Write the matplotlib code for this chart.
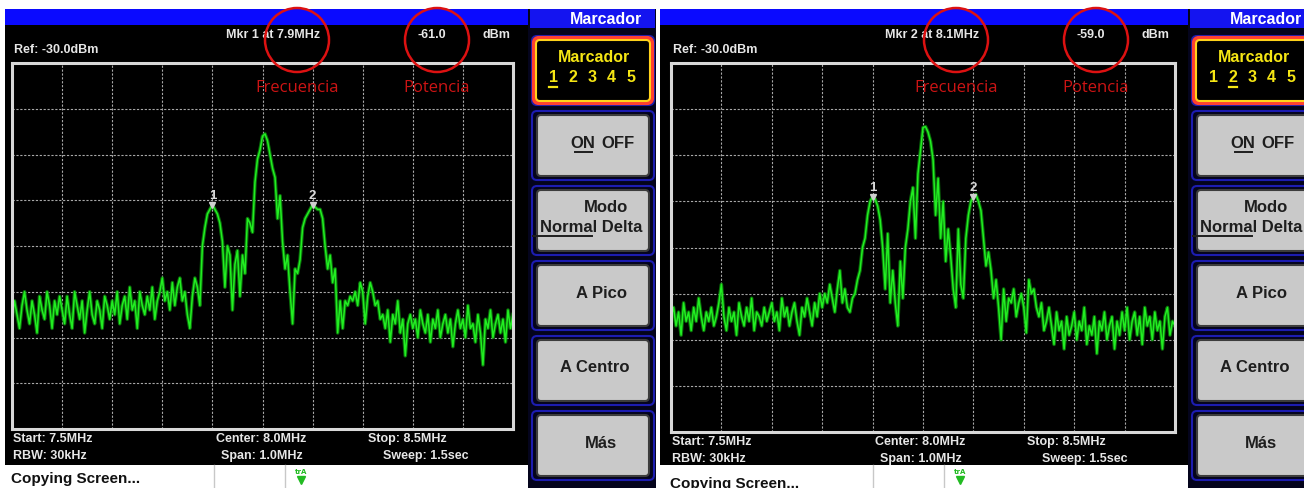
import numpy as np
import matplotlib.pyplot as plt
from matplotlib.patches import Rectangle, FancyBboxPatch, Circle
from matplotlib.ticker import MultipleLocator

W, H = 1304, 489

start_mhz, stop_mhz, step_mhz = 7.5, 8.5, 0.005
ref_dbm, bottom_dbm = -30.0, -110.0

# sweep traces (dBm), one point every 5 kHz from 7.5 to 8.5 MHz
trace_a = [
    -86, -82, -85, -88, -83, -80, -84, -87, -82, -85, -89, -81, -84, -86, -80, -83, -88, -82, -85, -81,
    -84, -87, -81, -85, -88, -80, -83, -86, -82, -89, -84, -80, -85, -87, -82, -84, -88, -81, -83, -86,
    -82, -85, -80, -87, -83, -81, -86, -79, -84, -82, -88, -80, -83, -85, -81, -84, -79, -86, -82, -80,
    -77, -82, -80, -84, -78, -83, -79, -77, -82, -80, -85, -88, -81, -77, -79, -83, -70, -66, -63, -62,
    -61, -62, -63, -65, -69, -79, -70, -72, -84, -74, -71, -81, -72, -76, -64, -65, -67, -56, -51, -49,
    -46, -45.5, -47, -50, -53, -55, -64, -59, -69, -75, -72, -80, -87, -75, -76, -73, -66, -64, -63, -62,
    -61, -61.5, -62, -62, -64, -70, -75, -72, -78, -75, -89, -82, -88, -82, -83, -81, -82, -80, -83, -78,
    -80, -87, -81, -78, -80, -83, -82, -86, -85, -88, -84, -91, -85, -87, -82, -89, -86, -94, -87, -85,
    -88, -86, -90, -84, -87, -89, -85, -91, -86, -88, -84, -90, -87, -85, -89, -86, -92, -87, -84, -88,
    -86, -90, -83, -88, -87, -91, -85, -89, -96, -86, -88, -84, -90, -87, -85, -89, -86, -91, -84, -88, -85,
]
trace_b = [
    -85, -83, -87, -84, -89, -82, -86, -84, -88, -83, -86, -81, -85, -88, -84, -86, -83, -87, -85, -82,
    -78, -85, -88, -83, -86, -84, -89, -82, -85, -87, -83, -86, -81, -88, -84, -85, -87, -83, -86, -84,
    -82, -86, -84, -88, -81, -85, -83, -87, -84, -82, -86, -89, -83, -85, -81, -84, -87, -82, -85, -80,
    -83, -80, -82, -78, -81, -84, -79, -75, -82, -79, -83, -84, -81, -80, -77, -75, -70, -68, -63, -60,
    -59, -59.5, -61, -64, -70, -79, -67, -82, -75, -82, -87, -73, -81, -70, -66, -60, -57, -68, -54, -49,
    -44, -43.8, -45, -47, -51, -63, -55, -68, -60, -73, -66, -72, -79, -83, -66, -78, -81, -68, -63, -60,
    -59, -58.5, -60, -62, -68, -74, -71, -75, -81, -77, -83, -90, -79, -86, -81, -82, -79, -85, -82, -80,
    -83, -88.5, -77, -80, -79, -83, -85, -82, -88, -86, -83, -87, -91, -84, -88, -86, -92, -85, -89, -87,
    -84, -90, -86, -88, -83, -91, -87, -89, -85, -93, -86, -88, -84, -90, -87, -85, -92, -86, -89, -84,
    -88, -83, -90, -86, -84, -89, -85, -91, -83, -87, -85, -90, -84, -88, -86, -92, -85, -83, -89, -86, -87,
]

marker_freqs = [7.9, 8.1]
active_marker = [1, 2]
readout_dbm = [-61.0, -59.0]

screen_font = ["Liberation Sans Narrow", "Liberation Sans", "DejaVu Sans"]
menu_font = ["Liberation Sans", "DejaVu Sans"]

freqs = np.arange(len(trace_a)) * step_mhz + start_mhz

fig = plt.figure(figsize=(W / 100, H / 100), dpi=100)
fig.patch.set_facecolor("white")

bg = fig.add_axes([0, 0, 1, 1])
bg.set_xlim(0, W)
bg.set_ylim(H, 0)
bg.axis("off")


def rect(ax, x0, y0, x1, y1, **kw):
    ax.add_patch(Rectangle((x0, y0), x1 - x0, y1 - y0, **kw))


def stxt(x, y, s, ha="left", color="#e6e6e6", size=9):
    bg.text(x, y, s, ha=ha, va="center", color=color, fontsize=size,
            fontweight="bold", family=screen_font)


def mtxt(x, y, s, color="#1e1e1e", size=12):
    bg.text(x, y, s, ha="center", va="center", color=color, fontsize=size,
            fontweight="bold", family=menu_font)


def draw_screen(x0, x1, gx, gw, gh, trace, n, status_y):
    # display area
    rect(bg, x0, 10, x1, 26, color="#0a0aff", lw=0)
    rect(bg, x0, 26, x1, 466, color="black", lw=0)
    rect(bg, x0, 466, x1, H, color="white", lw=0)
    gy = 64
    by = gy + gh + 9  # first line of the sweep info under the graticule

    stxt(gx + 261, 35, f"Mkr {active_marker[n]} at {marker_freqs[active_marker[n] - 1]:.1f}MHz", ha="center")
    stxt(gx + 420, 35, f"{readout_dbm[n]:.1f}", ha="center")
    stxt(gx + 484, 35, "dBm", ha="center")
    stxt(gx + 2, 50, f"Ref: {ref_dbm:.1f}dBm")

    stxt(gx + 1, by, f"Start: {start_mhz}MHz")
    stxt(gx + 204, by, f"Center: {(start_mhz + stop_mhz) / 2:.1f}MHz")
    stxt(gx + 356, by, f"Stop: {stop_mhz}MHz")
    stxt(gx + 1, by + 17, "RBW: 30kHz")
    stxt(gx + 209, by + 17, f"Span: {stop_mhz - start_mhz:.1f}MHz")
    stxt(gx + 371, by + 17, "Sweep: 1.5sec")

    # status bar
    bg.plot([gx + 202, gx + 202], [466, H], color="#c8c8c8", lw=1)
    bg.plot([gx + 273, gx + 273], [466, H], color="#c8c8c8", lw=1)
    bg.text(gx - 1, status_y, "Copying Screen...", ha="left", va="center",
            color="#111111", fontsize=11, fontweight="semibold", family=menu_font)
    bg.text(gx + 289, 472, "trA", ha="center", va="center", color="#22bb22",
            fontsize=5, fontweight="bold")
    bg.plot(gx + 289, 481, marker="v", ms=6, color="#22bb22")

    # graticule
    ax = fig.add_axes([gx / W, 1 - (gy + gh) / H, gw / W, gh / H])
    ax.set_facecolor("black")
    ax.set_xlim(start_mhz, stop_mhz)
    ax.set_ylim(bottom_dbm, ref_dbm)
    ax.xaxis.set_major_locator(MultipleLocator(0.1))
    ax.yaxis.set_major_locator(MultipleLocator(10))
    ax.tick_params(length=0, labelbottom=False, labelleft=False)
    ax.grid(True, color="#a8a8a8", lw=0.8, linestyle=(0, (2, 1.5)))
    for sp in ax.spines.values():
        sp.set_color("#d8d8d8")
        sp.set_linewidth(2.2)

    ax.plot(freqs, trace, color="#0c8a0c", lw=2.6, alpha=0.8)
    ax.plot(freqs, trace, color="#22ee22", lw=1.1)

    for k, f in enumerate(marker_freqs):
        idx = int(round((f - start_mhz) / step_mhz))
        lvl = readout_dbm[n] if k + 1 == active_marker[n] else trace[idx]
        ax.plot(f, lvl, marker="v", ms=4, color="#cfcfcf", mec="#cfcfcf")
        ax.annotate(str(k + 1), (f, lvl), xytext=(0, 7), textcoords="offset points",
                    ha="center", va="center", color="#d8d8d8", fontsize=9.5,
                    fontweight="bold", family=screen_font)
    return ax


def draw_menu(mx, sel):
    rect(bg, mx, 10, mx + 128, H, color="#04041c", lw=0)
    rect(bg, mx + 2, 10, mx + 127, 29, color="#1414f0", lw=0)
    mtxt(mx + 78, 20, "Marcador", color="white", size=11.5)
    tops = [37, 112, 187, 262, 337, 412]
    for i, t in enumerate(tops):
        bg.add_patch(FancyBboxPatch((mx + 4, t), 122, 69,
                                    boxstyle="round,pad=0,rounding_size=5",
                                    fc="none", ec="#1c1cb0", lw=1.5))
        if i == 0:
            bg.add_patch(FancyBboxPatch((mx + 6, t + 2), 118, 65,
                                        boxstyle="round,pad=0,rounding_size=5",
                                        fc="black", ec="#ff4030", lw=3))
            bg.add_patch(FancyBboxPatch((mx + 8, t + 4), 114, 61,
                                        boxstyle="round,pad=0,rounding_size=4",
                                        fc="black", ec="#ffd21a", lw=1.5))
            mtxt(mx + 66, t + 21, "Marcador", color="#f5e614", size=11.5)
            for j in range(5):
                mtxt(mx + 25 + j * 19.5, t + 41, str(j + 1), color="#f5e614", size=11.5)
            ux = mx + 25 + (sel - 1) * 19.5
            bg.plot([ux - 4, ux + 4], [t + 51, t + 51], color="#f5e614", lw=1.6)
            continue
        bg.add_patch(FancyBboxPatch((mx + 9, t + 4), 112, 61,
                                    boxstyle="round,pad=0,rounding_size=4",
                                    fc="#c9c9c9", ec="#3c3c3c", lw=1.5))
        if i == 1:
            mtxt(mx + 55, t + 31, "ON")
            mtxt(mx + 90, t + 31, "OFF")
            bg.plot([mx + 47, mx + 64], [t + 41, t + 41], color="#1e1e1e", lw=1.4)
        elif i == 2:
            mtxt(mx + 78, t + 21, "Modo")
            mtxt(mx + 63, t + 40, "Normal Delta")
            bg.plot([mx + 5, mx + 64], [t + 50, t + 50], color="#1e1e1e", lw=1.4)
        elif i == 3:
            mtxt(mx + 74, t + 31, "A Pico")
        elif i == 4:
            mtxt(mx + 67, t + 31, "A Centro")
        else:
            mtxt(mx + 73, t + 31, "Más")


draw_screen(5, 528, 12, 501, 366, trace_a, 0, 479)
draw_menu(528, active_marker[0])
draw_screen(660, 1188, 671, 504, 369, trace_b, 1, 484)
draw_menu(1188, active_marker[1])

# red call-outs on top of everything
top = fig.add_axes([0, 0, 1, 1])
top.set_xlim(0, W)
top.set_ylim(H, 0)
top.axis("off")
for gx in (12, 671):
    for cx, word in ((gx + 285, "Frecuencia"), (gx + 425, "Potencia")):
        top.add_patch(Circle((cx, 41), 32, fc="none", ec="#dd1111", lw=1.8))
        top.text(cx, 88, word, ha="center", va="center", color="#cc1414",
                 fontsize=12, family=["Open Sans", "DejaVu Sans"])

fig.savefig("out.png", dpi=100)
